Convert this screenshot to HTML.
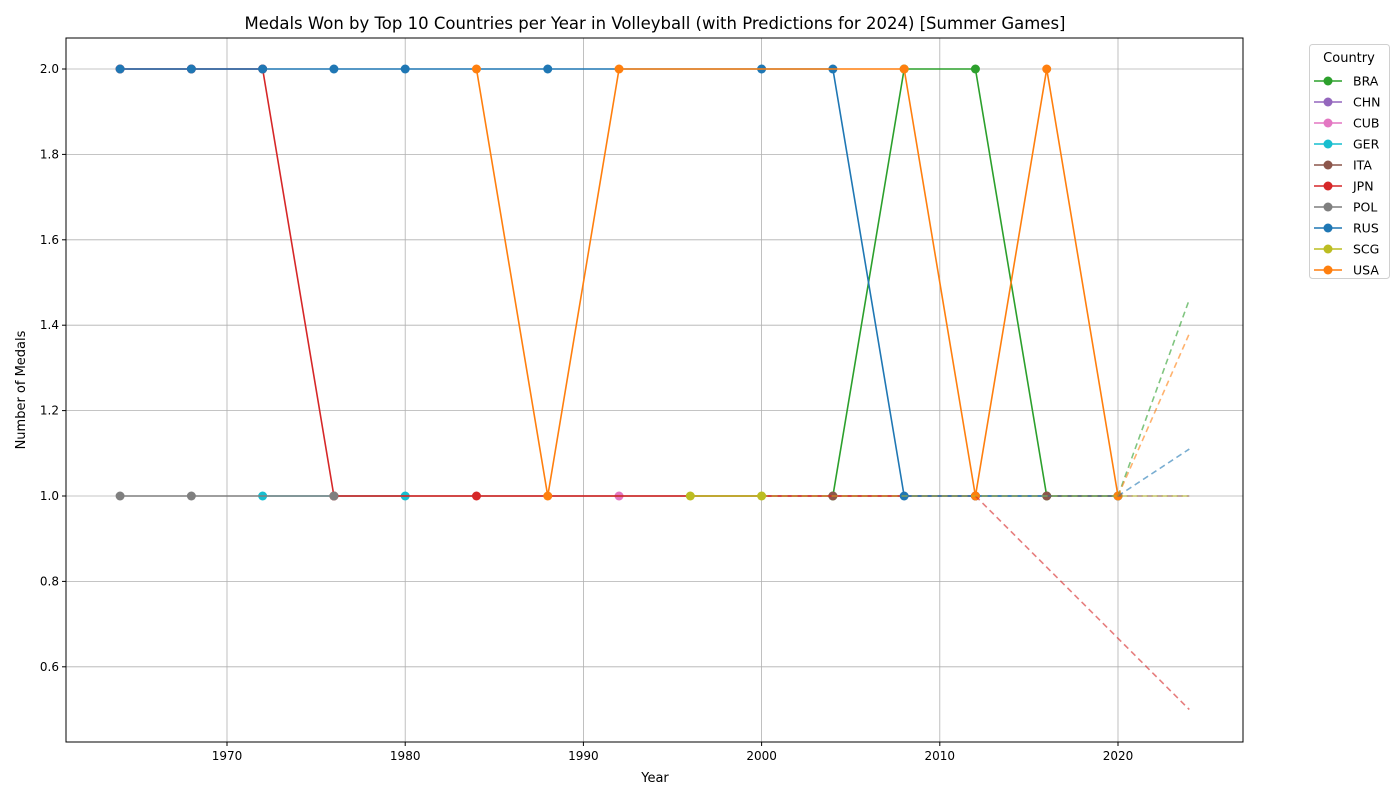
<!DOCTYPE html>
<html><head><meta charset="utf-8"><style>
body{margin:0;background:#fff;font-family:"DejaVu Sans","Liberation Sans",sans-serif;}
svg text{font-family:"DejaVu Sans","Liberation Sans",sans-serif;}
</style></head><body>
<svg id="c" width="1400" height="800" xmlns="http://www.w3.org/2000/svg">
<rect width="1400" height="800" fill="#fff"/>
<text x="655" y="29" font-size="16.5" text-anchor="middle">Medals Won by Top 10 Countries per Year in Volleyball (with Predictions for 2024) [Summer Games]</text>
<text x="655" y="782" font-size="13" text-anchor="middle">Year</text>
<text x="25" y="390" font-size="13" text-anchor="middle" transform="rotate(-90 25 390)">Number of Medals</text>
<g id="grid"></g><g id="series"></g><g id="axes"></g><g id="legend"></g>
</svg>
<script>
const xTicks=[1970,1980,1990,2000,2010,2020];
const yTicks=[0.6,0.8,1.0,1.2,1.4,1.6,1.8,2.0];
const countries=["BRA","CHN","CUB","GER","ITA","JPN","POL","RUS","SCG","USA"];
const colors=["#2ca02c","#9467bd","#e377c2","#17becf","#8c564b","#d62728","#7f7f7f","#1f77b4","#bcbd22","#ff7f0e"];
const braYears=[2004,2008,2012,2016,2020]; const braVals=[1,2,2,1,1]; const braPred=1.46;
const chnYears=[1964,1968,1972]; const chnVals=[2,2,2]; const chnPred=null;
const cubYears=[1992]; const cubVals=[1]; const cubPred=null;
const gerYears=[1972,1980]; const gerVals=[1,1]; const gerPred=null;
const itaYears=[1976,2004,2016]; const itaVals=[1,1,1]; const itaPred=1.0;
const jpnYears=[1964,1968,1972,1976,1984,2012]; const jpnVals=[2,2,2,1,1,1]; const jpnPred=0.5;
const polYears=[1964,1968,1976]; const polVals=[1,1,1]; const polPred=null;
const rusYears=[1964,1968,1972,1976,1980,1988,2000,2004,2008,2012,2020]; const rusVals=[2,2,2,2,2,2,2,2,1,1,1]; const rusPred=1.11;
const scgYears=[1996,2000]; const scgVals=[1,1]; const scgPred=1.0;
const usaYears=[1984,1988,1992,2008,2012,2016,2020]; const usaVals=[2,1,2,2,1,2,1]; const usaPred=1.38;
const predYear=2024;
const allYears=[braYears,chnYears,cubYears,gerYears,itaYears,jpnYears,polYears,rusYears,scgYears,usaYears];
const allVals=[braVals,chnVals,cubVals,gerVals,itaVals,jpnVals,polVals,rusVals,scgVals,usaVals];
const allPred=[braPred,chnPred,cubPred,gerPred,itaPred,jpnPred,polPred,rusPred,scgPred,usaPred];

const L=66,R=1243,T=38,B=742;
const X=y=>227+(y-1970)*17.82;
const Y=v=>496-(v-1)*427;
const NS="http://www.w3.org/2000/svg";
function mk(tag,attrs,parent){const e=document.createElementNS(NS,tag);for(const k in attrs)e.setAttribute(k,attrs[k]);parent.appendChild(e);return e;}
const grid=document.getElementById('grid'),axes=document.getElementById('axes'),ser=document.getElementById('series'),leg=document.getElementById('legend');
xTicks.forEach(t=>{
  const l=mk('line',{x1:X(t),x2:X(t),y1:T,y2:B,stroke:'#b0b0b0','stroke-width':0.8},grid);
  
  
  mk('line',{x1:X(t),x2:X(t),y1:B,y2:B+4,stroke:'#000'},axes);
  const tx=mk('text',{x:X(t),y:B+18,'font-size':12,'text-anchor':'middle'},axes);tx.textContent=t;
  
  
});
yTicks.forEach(t=>{
  const l=mk('line',{x1:L,x2:R,y1:Y(t),y2:Y(t),stroke:'#b0b0b0','stroke-width':0.8},grid);
  
  
  mk('line',{x1:L-4,x2:L,y1:Y(t),y2:Y(t),stroke:'#000'},axes);
  const tx=mk('text',{x:L-7,y:Y(t)+4,'font-size':12,'text-anchor':'end'},axes);tx.textContent=t.toFixed(1);
  
  
});
const fr=mk('rect',{x:L,y:T,width:R-L,height:B-T,fill:'none',stroke:'#000','stroke-width':1},axes);


countries.forEach((c,i)=>{
  const g=mk('g',{},ser);
  
  
  const ys=allYears[i],vs=allVals[i],col=colors[i];
  const pts=ys.map((y,j)=>X(y)+','+Y(vs[j])).join(' ');
  const pl=mk('polyline',{points:pts,fill:'none',stroke:col,'stroke-width':1.6},g);
  
  
  ys.forEach((y,j)=>{const m=mk('circle',{cx:X(y),cy:Y(vs[j]),r:4.5,fill:col},g);
    
    });
});
countries.forEach((c,i)=>{
  const p=allPred[i]; if(p===null)return;
  const ys=allYears[i],vs=allVals[i];
  const ly=ys[ys.length-1],lv=vs[vs.length-1];
  const d=mk('line',{x1:X(ly),y1:Y(lv),x2:X(predYear),y2:Y(p),stroke:colors[i],'stroke-width':1.6,'stroke-dasharray':'6,4',opacity:0.6},ser);
  
  
});
const lb=mk('rect',{x:1309.5,y:44.5,width:80,height:234,rx:3,fill:'#fff',stroke:'#d0d0d0'},leg);


const lt=mk('text',{x:1349,y:62,'font-size':13,'text-anchor':'middle'},leg);lt.textContent='Country';


countries.forEach((c,i)=>{
  const g=mk('g',{},leg);
  
  
  const y=81+i*21;
  mk('line',{x1:1314,x2:1342,y1:y,y2:y,stroke:colors[i],'stroke-width':1.6},g);
  mk('circle',{cx:1328,cy:y,r:4.5,fill:colors[i]},g);
  const t=mk('text',{x:1353,y:y+4.5,'font-size':12.5},g);t.textContent=c;
});
</script>
</body></html>
